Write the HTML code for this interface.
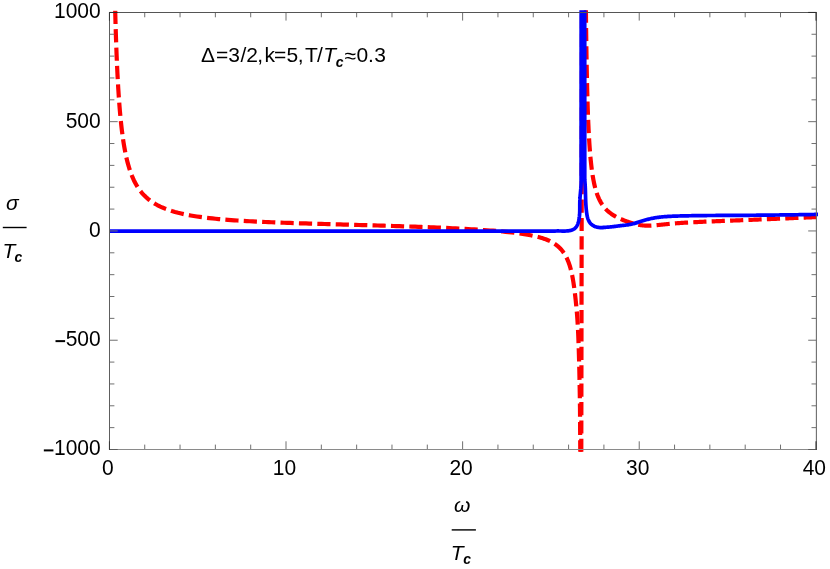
<!DOCTYPE html>
<html><head><meta charset="utf-8"><title>plot</title>
<style>
html,body{margin:0;padding:0;background:#fff;}
body{width:830px;height:569px;overflow:hidden;}
svg{display:block;will-change:transform;}
text{font-family:"Liberation Sans",sans-serif;font-size:21px;fill:#000;}
.i{font-style:italic;}
.bi{font-style:italic;font-weight:bold;font-size:14px;}
</style></head><body>
<svg width="830" height="569" viewBox="0 0 830 569">
<rect width="830" height="569" fill="#fff"/>
<defs><clipPath id="c"><rect x="107.4" y="10.15" width="711.2" height="441.55"/></clipPath></defs>
<g clip-path="url(#c)" fill="none" stroke-linejoin="round">
<path d="M114.20 -35.72 L114.30 -30.18 L114.40 -24.76 L114.51 -19.44 L114.61 -14.24 L114.72 -9.14 L114.83 -4.15 L114.94 0.73 L115.06 5.52 L115.18 10.21 L115.30 14.80 L115.42 19.29 L115.54 23.69 L115.67 28.01 L115.80 32.23 L115.93 36.36 L116.07 40.41 L116.21 44.38 L116.35 48.26 L116.49 52.06 L116.64 55.78 L116.79 59.43 L116.95 63.00 L117.10 66.50 L117.26 69.92 L117.43 73.28 L117.60 76.56 L117.77 79.78 L117.94 82.93 L118.12 86.01 L118.30 89.03 L118.49 91.99 L118.68 94.89 L118.87 97.72 L119.07 100.50 L119.27 103.22 L119.48 105.88 L119.69 108.49 L119.90 111.05 L120.12 113.55 L120.34 116.00 L120.57 118.39 L120.81 120.74 L121.05 123.04 L121.29 125.29 L121.54 127.50 L121.79 129.66 L122.05 131.77 L122.32 133.84 L122.59 135.87 L122.86 137.86 L123.14 139.80 L123.43 141.70 L123.73 143.57 L124.03 145.39 L124.33 147.18 L124.65 148.93 L124.97 150.64 L125.29 152.32 L125.63 153.96 L125.97 155.57 L126.31 157.14 L126.67 158.68 L127.03 160.19 L127.40 161.67 L127.78 163.12 L128.16 164.53 L128.56 165.92 L128.96 167.28 L129.37 168.61 L129.79 169.91 L130.22 171.18 L130.65 172.43 L131.10 173.65 L131.56 174.85 L132.02 176.02 L132.50 177.16 L132.98 178.28 L133.48 179.38 L133.98 180.46 L134.50 181.51 L135.03 182.54 L135.57 183.54 L136.12 184.53 L136.68 185.50 L137.25 186.44 L137.84 187.37 L138.44 188.27 L139.05 189.16 L139.67 190.02 L140.31 190.87 L140.96 191.70 L141.62 192.52 L142.30 193.31 L142.99 194.09 L143.70 194.85 L144.42 195.60 L145.15 196.32 L145.91 197.04 L146.67 197.73 L147.46 198.42 L148.26 199.09 L149.08 199.74 L149.91 200.38 L150.77 201.00 L151.64 201.61 L152.53 202.21 L153.43 202.80 L154.36 203.37 L155.31 203.94 L156.27 204.49 L157.26 205.03 L158.27 205.55 L159.30 206.07 L160.35 206.58 L161.42 207.07 L162.52 207.55 L165.64 208.83 L168.75 209.97 L171.87 210.99 L174.99 211.92 L178.11 212.76 L181.23 213.52 L184.35 214.22 L187.47 214.85 L190.59 215.44 L193.70 215.98 L196.82 216.47 L199.94 216.92 L203.06 217.34 L206.18 217.73 L209.30 218.09 L212.42 218.43 L215.53 218.74 L218.65 219.04 L221.77 219.32 L224.89 219.58 L228.01 219.83 L231.13 220.07 L234.25 220.29 L237.37 220.50 L240.48 220.70 L243.60 220.89 L246.72 221.07 L249.84 221.24 L252.96 221.41 L256.08 221.57 L259.20 221.72 L262.32 221.87 L265.43 222.01 L268.55 222.14 L271.67 222.27 L274.79 222.40 L277.91 222.52 L281.03 222.63 L284.15 222.75 L287.26 222.86 L290.38 222.97 L293.50 223.07 L296.62 223.18 L299.74 223.28 L302.86 223.38 L305.98 223.47 L309.10 223.57 L312.21 223.66 L315.33 223.75 L318.45 223.84 L321.57 223.93 L324.69 224.02 L327.81 224.11 L330.93 224.20 L334.04 224.28 L337.16 224.37 L340.28 224.46 L343.40 224.54 L346.52 224.63 L349.64 224.72 L352.76 224.80 L355.88 224.89 L358.99 224.98 L362.11 225.06 L365.23 225.15 L368.35 225.24 L371.47 225.33 L374.59 225.42 L377.71 225.51 L380.82 225.61 L383.94 225.70 L387.06 225.79 L390.18 225.89 L393.30 225.99 L396.42 226.09 L399.54 226.19 L402.66 226.29 L405.77 226.39 L408.89 226.50 L412.01 226.60 L415.13 226.71 L418.25 226.82 L421.37 226.94 L424.49 227.05 L427.60 227.17 L430.72 227.29 L433.84 227.42 L436.96 227.55 L440.08 227.68 L443.20 227.81 L446.32 227.95 L449.44 228.09 L452.55 228.24 L455.67 228.39 L458.79 228.55 L461.91 228.71 L465.03 228.88 L468.15 229.05 L471.27 229.23 L474.39 229.42 L477.50 229.61 L480.62 229.82 L483.74 230.03 L486.86 230.25 L489.98 230.47 L493.10 230.71 L496.22 230.96 L499.33 231.23 L502.45 231.51 L505.57 231.81 L508.69 232.13 L511.81 232.47 L514.93 232.84 L518.05 233.24 L521.17 233.68 L524.28 234.15 L527.40 234.68 L530.52 235.27 L533.64 235.92 L535.16 236.26 L536.62 236.60 L538.05 236.96 L539.43 237.32 L540.76 237.70 L542.05 238.09 L543.31 238.49 L544.52 238.90 L545.70 239.33 L546.84 239.77 L547.94 240.23 L549.01 240.70 L550.05 241.19 L551.05 241.70 L552.02 242.22 L552.97 242.76 L553.88 243.32 L554.76 243.89 L555.62 244.49 L556.45 245.11 L557.25 245.74 L558.03 246.39 L558.79 247.07 L559.52 247.76 L560.23 248.48 L560.91 249.21 L561.58 249.97 L562.22 250.76 L562.84 251.57 L563.45 252.40 L564.03 253.26 L564.60 254.14 L565.15 255.06 L565.68 256.00 L566.20 256.97 L566.70 257.97 L567.18 259.00 L567.65 260.07 L568.11 261.17 L568.55 262.30 L568.97 263.47 L569.39 264.68 L569.79 265.92 L570.17 267.21 L570.55 268.53 L570.91 269.90 L571.27 271.31 L571.61 272.76 L571.94 274.27 L572.26 275.82 L572.57 277.41 L572.87 279.06 L573.16 280.77 L573.45 282.52 L573.72 284.34 L573.99 286.21 L574.25 288.14 L574.51 290.13 L574.77 292.19 L575.03 294.31 L575.28 296.50 L575.53 298.76 L575.78 301.10 L576.03 303.50 L576.27 305.99 L576.51 308.55 L576.75 311.20 L576.98 313.93 L577.20 316.75 L577.41 319.66 L577.61 322.67 L577.79 325.77 L577.96 328.97 L578.11 332.27 L578.26 335.68 L578.40 339.20 L578.53 342.83 L578.66 346.58 L578.79 350.45 L578.91 354.44 L579.03 358.56 L579.14 362.82 L579.25 367.21 L579.36 371.74 L579.46 376.42 L579.56 381.25 L579.65 386.23 L579.74 391.37 L579.83 396.68 L579.91 402.17 L579.98 407.82 L580.03 413.66 L580.08 419.69 L580.11 425.91 L580.15 432.33 L580.18 438.96 L580.23 445.80 L580.29 452.87 L580.36 460.16 L580.42 467.68 L580.49 475.45 L580.55 483.46 L580.61 491.74" stroke="#f00" stroke-width="4.2" stroke-dasharray="13.2 5.21" stroke-dashoffset="-9.67"/>
<path d="M581.3 452 L582.0 9" stroke="#f00" stroke-width="4.2" stroke-dasharray="13.2 5.21" stroke-dashoffset="0"/>
<path d="M585.51 -34.70 L585.56 -27.92 L585.61 -21.32 L585.67 -14.89 L585.72 -8.62 L585.78 -2.51 L585.83 3.45 L585.89 9.26 L585.95 14.91 L586.01 20.43 L586.08 25.80 L586.14 31.04 L586.21 36.15 L586.28 41.12 L586.35 45.97 L586.42 50.70 L586.49 55.30 L586.57 59.79 L586.65 64.17 L586.73 68.43 L586.81 72.59 L586.89 76.64 L586.98 80.59 L587.07 84.44 L587.16 88.19 L587.25 91.84 L587.35 95.40 L587.44 98.88 L587.54 102.26 L587.65 105.56 L587.75 108.77 L587.86 111.90 L587.97 114.96 L588.09 117.93 L588.20 120.83 L588.32 123.66 L588.45 126.41 L588.57 129.09 L588.70 131.71 L588.84 134.26 L588.97 136.74 L589.11 139.17 L589.26 141.53 L589.40 143.83 L589.56 146.07 L589.71 148.25 L589.87 150.38 L590.03 152.46 L590.20 154.48 L590.37 156.45 L590.55 158.37 L590.73 160.24 L590.92 162.07 L591.11 163.84 L591.31 165.58 L591.51 167.27 L591.71 168.91 L591.92 170.52 L592.14 172.08 L592.36 173.60 L592.59 175.09 L592.83 176.53 L593.07 177.94 L593.31 179.32 L593.57 180.66 L593.83 181.96 L594.09 183.24 L594.37 184.48 L594.65 185.68 L594.93 186.86 L595.23 188.01 L595.53 189.13 L595.84 190.22 L596.16 191.28 L596.49 192.32 L596.83 193.33 L597.17 194.31 L597.52 195.27 L597.89 196.21 L598.26 197.12 L598.64 198.01 L599.03 198.88 L599.43 199.72 L599.85 200.55 L600.27 201.35 L600.70 202.13 L601.15 202.90 L601.61 203.64 L602.08 204.37 L602.56 205.08 L603.05 205.77 L603.56 206.45 L604.08 207.11 L604.61 207.75 L605.16 208.38 L605.72 208.99 L606.30 209.59 L606.89 210.18 L607.49 210.75 L608.12 211.31 L608.75 211.86 L609.41 212.39 L610.08 212.92 L610.77 213.43 L611.48 213.94 L612.20 214.43 L612.95 214.92 L613.71 215.40 L614.50 215.86 L615.30 216.33 L616.13 216.78 L616.97 217.23 L617.84 217.67 L618.73 218.10 L619.65 218.53 L620.59 218.96 L621.55 219.38 L622.54 219.80 L623.55 220.21 L624.59 220.62 L625.66 221.03 L626.75 221.43 L627.88 221.83 L629.03 222.22 L630.21 222.61 L631.42 222.98 L632.67 223.35 L633.95 223.70 L635.26 224.04 L636.60 224.36 L637.82 224.62 L639.03 224.85 L640.24 225.05 L641.45 225.22 L642.67 225.37 L643.88 225.48 L645.09 225.56 L646.30 225.62 L647.52 225.64 L648.73 225.65 L649.94 225.62 L651.15 225.58 L652.37 225.52 L653.58 225.44 L654.79 225.35 L656.00 225.24 L657.22 225.13 L658.43 225.01 L659.64 224.89 L660.85 224.77 L662.07 224.64 L663.28 224.51 L664.49 224.39 L665.71 224.26 L666.92 224.14 L668.13 224.02 L669.34 223.91 L670.56 223.79 L671.77 223.68 L672.98 223.58 L674.19 223.48 L675.41 223.38 L676.62 223.28 L677.83 223.19 L679.04 223.10 L680.26 223.01 L681.47 222.93 L682.68 222.85 L683.89 222.77 L685.11 222.70 L686.32 222.62 L687.53 222.55 L688.75 222.48 L689.96 222.42 L691.17 222.35 L692.38 222.29 L693.60 222.23 L694.81 222.16 L696.02 222.10 L697.23 222.05 L698.45 221.99 L699.66 221.93 L700.87 221.88 L702.08 221.82 L703.30 221.77 L704.51 221.71 L705.72 221.66 L706.93 221.61 L708.15 221.56 L709.36 221.50 L710.57 221.45 L711.79 221.40 L713.00 221.35 L714.21 221.30 L715.42 221.25 L716.64 221.20 L717.85 221.15 L719.06 221.10 L720.27 221.06 L721.49 221.01 L722.70 220.96 L723.91 220.91 L725.12 220.86 L726.34 220.81 L727.55 220.77 L728.76 220.72 L729.97 220.67 L731.19 220.62 L732.40 220.57 L733.61 220.52 L734.83 220.48 L736.04 220.43 L737.25 220.38 L738.46 220.33 L739.68 220.28 L740.89 220.23 L742.10 220.19 L743.31 220.14 L744.53 220.09 L745.74 220.04 L746.95 219.99 L748.16 219.94 L749.38 219.89 L750.59 219.84 L751.80 219.80 L753.01 219.75 L754.23 219.70 L755.44 219.65 L756.65 219.60 L757.86 219.55 L759.08 219.50 L760.29 219.45 L761.50 219.40 L762.72 219.35 L763.93 219.30 L765.14 219.25 L766.35 219.20 L767.57 219.15 L768.78 219.10 L769.99 219.05 L771.20 219.00 L772.42 218.95 L773.63 218.90 L774.84 218.85 L776.05 218.80 L777.27 218.74 L778.48 218.69 L779.69 218.64 L780.90 218.59 L782.12 218.54 L783.33 218.49 L784.54 218.44 L785.76 218.38 L786.97 218.33 L788.18 218.28 L789.39 218.23 L790.61 218.18 L791.82 218.12 L793.03 218.07 L794.24 218.02 L795.46 217.97 L796.67 217.91 L797.88 217.86 L799.09 217.81 L800.31 217.76 L801.52 217.70 L802.73 217.65 L803.94 217.60 L805.16 217.54 L806.37 217.49 L807.58 217.44 L808.80 217.38 L810.01 217.33 L811.22 217.28 L812.43 217.22 L813.65 217.17 L814.86 217.12 L816.07 217.06 L817.28 217.01" stroke="#f00" stroke-width="4.2" stroke-dasharray="13.2 5.21" stroke-dashoffset="-7.4"/>
<path d="M109.20 231.10 L555.00 231.07 L555.37 231.04 L555.75 231.01 L556.15 230.99 L556.56 230.98 L556.98 230.97 L557.41 230.96 L557.86 230.96 L558.31 230.96 L558.77 230.97 L559.24 230.98 L559.72 230.99 L560.21 231.00 L560.70 231.01 L561.20 231.02 L561.70 231.03 L562.21 231.04 L562.72 231.05 L563.23 231.05 L563.74 231.05 L564.26 231.05 L564.77 231.04 L565.29 231.03 L565.80 231.01 L566.32 230.98 L566.83 230.95 L567.33 230.91 L567.84 230.86 L568.33 230.81 L568.83 230.74 L569.31 230.66 L569.79 230.58 L570.27 230.48 L570.73 230.37 L571.19 230.24 L571.63 230.11 L572.07 229.96 L572.49 229.79 L572.90 229.61 L573.30 229.42 L573.69 229.21 L574.06 228.98 L574.41 228.73 L574.76 228.46 L575.08 228.18 L575.39 227.88 L575.68 227.56 L575.96 227.23 L576.23 226.88 L576.48 226.52 L576.72 226.14 L576.94 225.75 L577.15 225.35 L577.35 224.94 L577.54 224.52 L577.72 224.09 L577.89 223.65 L578.04 223.20 L578.19 222.75 L578.33 222.30 L578.45 221.84 L578.57 221.37 L578.69 220.90 L578.79 220.43 L578.89 219.96 L578.98 219.49 L579.06 219.02 L579.14 218.55 L579.21 218.08 L579.28 217.61 L579.34 217.13 L579.40 216.66 L579.45 216.19 L579.49 215.71 L579.53 215.24 L579.57 214.77 L579.60 214.29 L579.63 213.82 L579.66 213.34 L579.68 212.87 L579.70 212.39 L579.71 211.92 L579.73 211.45 L579.74 210.97 L579.75 210.50 L579.75 210.02 L579.76 209.55 L579.76 209.07 L579.77 208.60 L579.77 208.12 L579.77 207.65 L579.77 207.18 L579.77 206.70 L579.77 206.23 L579.77 205.76 L579.77 205.28 L579.77 204.81 L579.77 204.34 L579.78 203.87 L579.78 203.40 L579.79 202.92 L579.80 202.45 L579.81 201.98 L579.82 201.51 L579.84 201.05 L579.85 200.58 L579.88 200.11 L579.90 199.64 L579.93 199.18 L579.95 198.71 L579.98 198.24 L580.02 197.78 L580.05 197.31 L580.09 196.85 L580.12 196.38 L580.16 195.92 L580.20 195.45 L580.24 194.99 L580.28 194.53 L580.32 194.06 L580.37 193.60 L580.41 193.13 L580.45 192.67 L580.49 192.21 L580.54 191.74 L580.58 191.28 L580.62 190.81 L580.66 190.35 L580.70 189.88 L580.74 189.42 L580.78 188.95 L580.82 188.49 L580.85 188.02 L580.89 187.55 L580.92 187.09 L580.95 186.62 L580.98 186.15 L581.01 185.68 L581.03 185.21 L581.05 184.74 L581.07 184.27 L581.09 183.80 L581.10 183.33 L581.11 182.85 L581.12 182.38 L581.12 181.91 L581.12 181.43 L581.12 180.95 L581.11 180.48 L581.10 180.00 L582.90 -5000.00 L584.77 179.99 L584.83 180.56 L584.88 181.12 L584.93 181.69 L584.97 182.25 L585.01 182.81 L585.05 183.37 L585.09 183.93 L585.13 184.49 L585.16 185.04 L585.19 185.60 L585.22 186.15 L585.25 186.71 L585.27 187.26 L585.30 187.81 L585.32 188.36 L585.34 188.91 L585.36 189.46 L585.38 190.01 L585.40 190.56 L585.42 191.11 L585.43 191.66 L585.45 192.20 L585.46 192.75 L585.48 193.30 L585.49 193.85 L585.51 194.39 L585.52 194.94 L585.53 195.48 L585.55 196.03 L585.56 196.58 L585.58 197.12 L585.59 197.67 L585.61 198.22 L585.62 198.76 L585.64 199.31 L585.66 199.86 L585.68 200.41 L585.70 200.96 L585.72 201.51 L585.75 202.06 L585.77 202.61 L585.80 203.16 L585.83 203.71 L585.86 204.26 L585.89 204.82 L585.93 205.37 L585.97 205.93 L586.01 206.49 L586.05 207.05 L586.09 207.61 L586.14 208.17 L586.19 208.73 L586.25 209.29 L586.30 209.86 L586.36 210.42 L586.43 210.99 L586.49 211.56 L586.56 212.13 L586.64 212.70 L586.72 213.28 L586.80 213.85 L586.89 214.42 L586.99 214.98 L587.10 215.55 L587.22 216.11 L587.34 216.66 L587.48 217.21 L587.63 217.75 L587.79 218.29 L587.96 218.82 L588.14 219.33 L588.34 219.84 L588.56 220.34 L588.79 220.82 L589.03 221.30 L589.30 221.76 L589.58 222.20 L589.88 222.63 L590.20 223.05 L590.54 223.45 L590.90 223.83 L591.28 224.19 L591.68 224.54 L592.09 224.87 L592.52 225.18 L592.97 225.47 L593.43 225.74 L593.91 226.00 L594.40 226.24 L594.90 226.45 L595.42 226.65 L595.94 226.83 L596.48 226.99 L597.02 227.13 L597.58 227.26 L598.14 227.36 L598.70 227.44 L599.28 227.51 L599.85 227.56 L600.43 227.59 L601.02 227.62 L601.60 227.62 L602.19 227.62 L602.78 227.61 L603.00 227.39 L603.83 227.37 L604.66 227.33 L605.49 227.29 L606.32 227.25 L607.15 227.19 L607.98 227.13 L608.81 227.07 L609.64 226.99 L610.47 226.91 L611.30 226.83 L612.13 226.74 L612.96 226.65 L613.79 226.55 L614.62 226.45 L615.45 226.34 L616.28 226.24 L617.11 226.13 L617.94 226.02 L618.77 225.92 L619.60 225.81 L620.43 225.71 L621.26 225.61 L622.09 225.51 L622.92 225.41 L623.75 225.32 L624.58 225.22 L625.41 225.13 L626.24 225.02 L627.07 224.92 L627.90 224.80 L628.73 224.67 L629.56 224.53 L630.39 224.37 L631.22 224.20 L632.05 224.01 L632.88 223.81 L633.71 223.59 L634.54 223.36 L635.37 223.12 L636.20 222.87 L637.03 222.61 L637.86 222.35 L638.69 222.09 L639.53 221.83 L640.36 221.57 L641.19 221.31 L642.02 221.05 L642.85 220.79 L643.68 220.54 L644.51 220.29 L645.34 220.04 L646.17 219.81 L647.00 219.58 L647.83 219.35 L648.66 219.14 L649.49 218.94 L650.32 218.75 L651.15 218.56 L651.98 218.39 L652.81 218.22 L653.64 218.07 L654.47 217.92 L655.30 217.78 L656.13 217.64 L656.96 217.52 L657.79 217.40 L658.62 217.30 L659.45 217.19 L660.28 217.10 L661.11 217.01 L661.94 216.93 L662.77 216.85 L663.60 216.78 L664.43 216.71 L665.26 216.64 L666.09 216.58 L666.92 216.53 L667.75 216.47 L668.58 216.42 L669.41 216.38 L670.24 216.33 L671.07 216.29 L671.90 216.25 L672.73 216.21 L673.56 216.18 L674.39 216.14 L675.22 216.11 L676.05 216.08 L676.88 216.05 L677.71 216.03 L678.54 216.00 L679.37 215.98 L680.20 215.96 L681.03 215.94 L681.86 215.92 L682.69 215.90 L683.52 215.88 L684.35 215.87 L685.18 215.85 L686.01 215.83 L686.84 215.82 L687.67 215.80 L688.50 215.78 L689.33 215.76 L690.16 215.75 L690.99 215.73 L691.82 215.71 L692.65 215.69 L693.48 215.68 L694.31 215.66 L695.14 215.65 L695.97 215.63 L696.80 215.62 L697.63 215.61 L698.46 215.60 L699.29 215.59 L700.12 215.58 L700.95 215.57 L701.78 215.56 L702.61 215.56 L703.44 215.55 L704.27 215.54 L705.10 215.54 L705.93 215.53 L706.76 215.53 L707.59 215.52 L708.42 215.51 L709.25 215.51 L710.08 215.51 L710.92 215.50 L711.75 215.50 L712.58 215.49 L713.41 215.49 L714.24 215.48 L715.07 215.48 L715.90 215.47 L716.73 215.47 L717.56 215.46 L718.39 215.46 L719.22 215.45 L720.05 215.45 L720.88 215.44 L721.71 215.44 L722.54 215.44 L723.37 215.43 L724.20 215.43 L725.03 215.42 L725.86 215.42 L726.69 215.41 L727.52 215.41 L728.35 215.40 L729.18 215.40 L730.01 215.40 L730.84 215.39 L731.67 215.39 L732.50 215.38 L733.33 215.38 L734.16 215.37 L734.99 215.37 L735.82 215.36 L736.65 215.36 L737.48 215.36 L738.31 215.35 L739.14 215.35 L739.97 215.34 L740.80 215.34 L741.63 215.33 L742.46 215.33 L743.29 215.32 L744.12 215.32 L744.95 215.31 L745.78 215.30 L746.61 215.30 L747.44 215.29 L748.27 215.29 L749.10 215.28 L749.93 215.27 L750.76 215.27 L751.59 215.26 L752.42 215.25 L753.25 215.25 L754.08 215.24 L754.91 215.23 L755.74 215.23 L756.57 215.22 L757.40 215.21 L758.23 215.20 L759.06 215.19 L759.89 215.19 L760.72 215.18 L761.55 215.17 L762.38 215.16 L763.21 215.16 L764.04 215.15 L764.87 215.14 L765.70 215.13 L766.53 215.12 L767.36 215.11 L768.19 215.10 L769.02 215.09 L769.85 215.09 L770.68 215.08 L771.51 215.07 L772.34 215.06 L773.17 215.05 L774.00 215.04 L774.83 215.03 L775.66 215.02 L776.49 215.01 L777.32 215.00 L778.15 214.99 L778.98 214.98 L779.81 214.97 L780.64 214.96 L781.47 214.95 L782.31 214.94 L783.14 214.93 L783.97 214.92 L784.80 214.91 L785.63 214.90 L786.46 214.89 L787.29 214.88 L788.12 214.87 L788.95 214.86 L789.78 214.85 L790.61 214.84 L791.44 214.83 L792.27 214.81 L793.10 214.80 L793.93 214.79 L794.76 214.78 L795.59 214.77 L796.42 214.76 L797.25 214.75 L798.08 214.73 L798.91 214.72 L799.74 214.71 L800.57 214.70 L801.40 214.69 L802.23 214.67 L803.06 214.66 L803.89 214.65 L804.72 214.63 L805.55 214.62 L806.38 214.61 L807.21 214.59 L808.04 214.58 L808.87 214.56 L809.70 214.55 L810.53 214.54 L811.36 214.52 L812.19 214.51 L813.02 214.49 L813.85 214.48 L814.68 214.47 L815.51 214.45 L816.34 214.44 L817.17 214.43 L818.00 214.42" stroke="#00f" stroke-width="3.7"/>
</g>
<path d="M109.40 449.50v-8.20M109.40 12.40v8.20M144.72 449.50v-4.90M144.72 12.40v4.90M180.04 449.50v-4.90M180.04 12.40v4.90M215.37 449.50v-4.90M215.37 12.40v4.90M250.69 449.50v-4.90M250.69 12.40v4.90M286.01 449.50v-8.20M286.01 12.40v8.20M321.33 449.50v-4.90M321.33 12.40v4.90M356.65 449.50v-4.90M356.65 12.40v4.90M391.98 449.50v-4.90M391.98 12.40v4.90M427.30 449.50v-4.90M427.30 12.40v4.90M462.62 449.50v-8.20M462.62 12.40v8.20M497.94 449.50v-4.90M497.94 12.40v4.90M533.26 449.50v-4.90M533.26 12.40v4.90M568.59 449.50v-4.90M568.59 12.40v4.90M603.91 449.50v-4.90M603.91 12.40v4.90M639.23 449.50v-8.20M639.23 12.40v8.20M674.55 449.50v-4.90M674.55 12.40v4.90M709.87 449.50v-4.90M709.87 12.40v4.90M745.20 449.50v-4.90M745.20 12.40v4.90M780.52 449.50v-4.90M780.52 12.40v4.90M815.84 449.50v-8.20M815.84 12.40v8.20M109.50 449.50h8.20M816.40 449.50h-8.20M109.50 427.64h4.90M816.40 427.64h-4.90M109.50 405.79h4.90M816.40 405.79h-4.90M109.50 383.94h4.90M816.40 383.94h-4.90M109.50 362.08h4.90M816.40 362.08h-4.90M109.50 340.23h8.20M816.40 340.23h-8.20M109.50 318.37h4.90M816.40 318.37h-4.90M109.50 296.51h4.90M816.40 296.51h-4.90M109.50 274.66h4.90M816.40 274.66h-4.90M109.50 252.80h4.90M816.40 252.80h-4.90M109.50 230.95h8.20M816.40 230.95h-8.20M109.50 209.09h4.90M816.40 209.09h-4.90M109.50 187.24h4.90M816.40 187.24h-4.90M109.50 165.38h4.90M816.40 165.38h-4.90M109.50 143.53h4.90M816.40 143.53h-4.90M109.50 121.67h8.20M816.40 121.67h-8.20M109.50 99.82h4.90M816.40 99.82h-4.90M109.50 77.96h4.90M816.40 77.96h-4.90M109.50 56.11h4.90M816.40 56.11h-4.90M109.50 34.25h4.90M816.40 34.25h-4.90M109.50 12.40h8.20M816.40 12.40h-8.20" stroke="#707070" stroke-width="1.0" fill="none"/>
<path d="M109.00 12.5H816.90" stroke="#555" stroke-width="1" fill="none"/>
<path d="M109.00 449.5H816.90" stroke="#8a8a8a" stroke-width="1" fill="none"/>
<path d="M109.5 12V450" stroke="#5e5e5e" stroke-width="1" fill="none"/>
<path d="M816.4 12V450" stroke="#6c6c6c" stroke-width="1.1" fill="none"/>
<path d="M109 12.5h8.7M808.2 12.5h8.7" stroke="#2c2c2c" stroke-width="1" fill="none"/>
<path d="M109 449.5h8.7M808.2 449.5h8.7" stroke="#5c5c5c" stroke-width="1" fill="none"/>
<path d="M109.5 12v8.7M109.5 441.3v8.7" stroke="#3a3a3a" stroke-width="1" fill="none"/>
<path d="M816.4 12v8.7M816.4 441.3v8.7" stroke="#4a4a4a" stroke-width="1.1" fill="none"/>
<g>
<text transform="translate(107.90 474.70) scale(1 1.05)" text-anchor="middle">0</text>
<text transform="translate(284.51 474.70) scale(1 1.05)" text-anchor="middle">10</text>
<text transform="translate(461.12 474.70) scale(1 1.05)" text-anchor="middle">20</text>
<text transform="translate(637.73 474.70) scale(1 1.05)" text-anchor="middle">30</text>
<text transform="translate(814.34 474.70) scale(1 1.05)" text-anchor="middle">40</text>
<text transform="translate(100.70 455.40) scale(1 1.05)" text-anchor="end">1000</text>
<rect x="43.83" y="449.40" width="9.6" height="2.0" fill="#000"/>
<text transform="translate(100.70 346.13) scale(1 1.05)" text-anchor="end">500</text>
<rect x="55.51" y="340.13" width="9.6" height="2.0" fill="#000"/>
<text transform="translate(100.70 236.85) scale(1 1.05)" text-anchor="end">0</text>
<text transform="translate(100.70 127.57) scale(1 1.05)" text-anchor="end">500</text>
<text transform="translate(100.70 18.30) scale(1 1.05)" text-anchor="end">1000</text>
</g>
<text x="201.10" y="62.30">Δ</text>
<text x="215.90" y="62.30">=</text>
<text x="228.35" y="62.30">3</text>
<text x="240.51" y="62.30">/</text>
<text x="246.34" y="62.30">2</text>
<text x="257.18" y="62.30">,</text>
<text x="264.52" y="62.30">k</text>
<text x="273.88" y="62.30">=</text>
<text x="286.62" y="62.30">5</text>
<text x="297.76" y="62.30">,</text>
<text x="305.10" y="62.30">T</text>
<text x="317.02" y="62.30">/</text>
<text x="323.14" y="62.30" class="i">T</text>
<text x="335.79" y="67.20" class="bi">c</text>
<text x="344.60" y="62.90">≈</text>
<text x="356.50" y="62.30">0</text>
<text x="367.90" y="62.30">.</text>
<text x="374.37" y="62.30">3</text>
<text x="6" y="209.5" class="i">&#963;</text>
<rect x="2.8" y="226.8" width="23.8" height="1.4" fill="#000"/>
<text x="2.6" y="257.8" class="i">T</text><text x="14.6" y="261.8" class="bi">c</text>
<text x="454" y="511.8" class="i">&#969;</text>
<rect x="451.7" y="529.2" width="24.2" height="1.4" fill="#000"/>
<text x="450.8" y="559.8" class="i">T</text><text x="463.2" y="563.6" class="bi">c</text>
</svg>
</body></html>
